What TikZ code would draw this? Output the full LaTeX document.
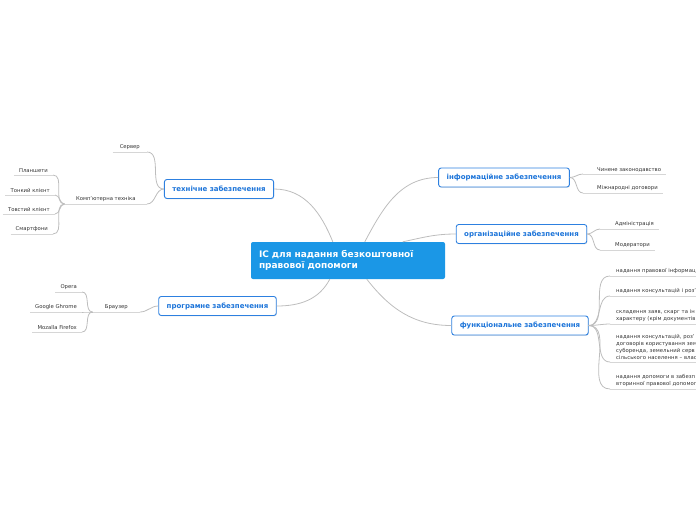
\documentclass[tikz,border=0pt]{standalone}
\usepackage{fontspec}
\setmainfont{DejaVu Sans}
\usetikzlibrary{shadows}

\definecolor{rootblue}{HTML}{1B97E6}
\definecolor{topicblue}{HTML}{2D80E0}
\definecolor{topictext}{HTML}{1C74D9}
\definecolor{branchgray}{HTML}{BDBDBD}
\definecolor{ulgray}{HTML}{D6D6D6}
\definecolor{leaftext}{HTML}{333333}

\tikzset{
  rootbox/.style={fill=rootblue, rounded corners=2pt, text=white, align=left,
    font=\bfseries\fontsize{9}{11}\selectfont, minimum width=194pt, minimum height=37pt, text width=178pt},
  topic/.style={draw=topicblue, line width=0.9pt, fill=white, rounded corners=2.5pt, text=topictext,
    font=\bfseries\fontsize{7}{8}\selectfont, minimum height=19pt, inner xsep=8pt,
    drop shadow={opacity=0.2, shadow xshift=0.6pt, shadow yshift=-0.8pt}},
  leaf/.style={font=\fontsize{5.3}{7}\selectfont, text=leaftext, inner xsep=5pt, inner ysep=2pt, align=left},
  padleaf/.style={leaf, execute at begin node={\hspace*{#1}}},
  wideleaf/.style={leaf, inner xsep=6pt, font=\fontsize{5.3}{7}\selectfont\addfontfeature{LetterSpace=1}},
  branch/.style={draw=branchgray, line width=0.8pt},
  uline/.style={draw=ulgray, line width=0.7pt},
}

\begin{document}
\begin{tikzpicture}[x=1pt, y=-1pt]
  \useasboundingbox (0,0) rectangle (696,520);

  % centre
  \node[rootbox] (root) at (348,260.5) {ІС для надання безкоштовної\\правової допомоги};

  % topics
  \node[topic] (tech) at (219,189) {технічне забезпечення};
  \node[topic] (soft) at (217.5,306) {програмне забезпечення};
  \node[topic] (info) at (504,177.5) {інформаційне забезпечення};
  \node[topic] (org) at (521.5,234) {організаційне забезпечення};
  \node[topic] (func) at (520,325.5) {функціональне забезпечення};

  \draw[branch] ([xshift=82pt]root.north west) to[out=112, in=0] (tech.east);
  \draw[branch] ([xshift=114pt]root.north west) to[out=62, in=180] (info.west);
  \draw[branch] ([xshift=152pt]root.north west) to[out=12, in=180] (org.west);
  \draw[branch] ([xshift=79pt]root.south west) to[out=-118, in=0] (soft.east);
  \draw[branch] ([xshift=116pt]root.south west) to[out=-52, in=180] (func.west);

  % technical
  \node[leaf, anchor=south east, minimum width=34pt] (server) at (147,152) {Сервер};
  \node[leaf, anchor=south east, minimum width=82pt] (comp) at (147,204) {Комп'ютерна техніка};
  \node[leaf, anchor=south east] (tablet) at (53,175) {Планшети};
  \node[leaf, anchor=south east] (thin) at (55,195) {Тонкий клієнт};
  \node[leaf, anchor=south east] (thick) at (55,214) {Товстий клієнт};
  \node[leaf, anchor=south east] (phone) at (53,234) {Смартфони};
  \foreach \n in {server, comp} {
    \draw[branch] (tech.west) to[out=180, in=0] (\n.south east);
  }
  \foreach \n in {tablet, thin, thick, phone} {
    \draw[branch] (comp.south west) to[out=180, in=0] (\n.south east);
  }

  % software
  \node[leaf, anchor=south east, minimum width=47pt] (browser) at (140,312) {Браузер};
  \node[leaf, anchor=south east] (opera) at (82,292) {Opera};
  \node[leaf, anchor=south east] (chrome) at (82,312) {Google Ghrome};
  \node[leaf, anchor=south east] (firefox) at (82,332) {Mozalla Firefox};
  \draw[branch] (soft.west) to[out=180, in=0] (browser.south east);
  \foreach \n in {opera, chrome, firefox} {
    \draw[branch] (browser.south west) to[out=180, in=0] (\n.south east);
  }

  % information
  \node[padleaf=9pt, anchor=south west] (law) at (583,174) {Чинене законодавство};
  \node[padleaf=9pt, anchor=south west] (treaty) at (583,193) {Міжнародні договори};
  \foreach \n in {law, treaty} {
    \draw[branch] (info.east) to[out=0, in=180] (\n.south west);
  }

  % organisational
  \node[padleaf=10pt, anchor=south west] (admin) at (600,229) {Адміністрація};
  \node[padleaf=10pt, anchor=south west] (moder) at (600,250) {Модератори};
  \foreach \n in {admin, moder} {
    \draw[branch] (org.east) to[out=0, in=180] (\n.south west);
  }

  % functional
  \node[wideleaf, anchor=south west] (f1) at (610,276) {надання правової інформац};
  \node[wideleaf, anchor=south west] (f2) at (610,296) {надання консультацій і роз'};
  \node[wideleaf, anchor=south west] (f3) at (610,324) {складення заяв, скарг та ін\\характеру (крім документів};
  \node[wideleaf, anchor=south west] (f4) at (610,362) {надання консультацій, роз'\\договорів користування зем\\суборенда, земельний серв\\сільського населення – влас};
  \node[wideleaf, anchor=south west] (f5) at (610,389) {надання допомоги в забезп\\вторинної правової допомог};
  \foreach \n in {f1, f2, f3, f4, f5} {
    \draw[branch] (func.east) to[out=0, in=180] (\n.south west);
  }

  % underlines
  \foreach \n in {server, comp, tablet, thin, thick, phone, browser, opera, chrome, firefox,
                  law, treaty, admin, moder, f1, f2, f3, f4, f5} {
    \draw[uline] (\n.south west) -- (\n.south east);
  }
\end{tikzpicture}
\end{document}
